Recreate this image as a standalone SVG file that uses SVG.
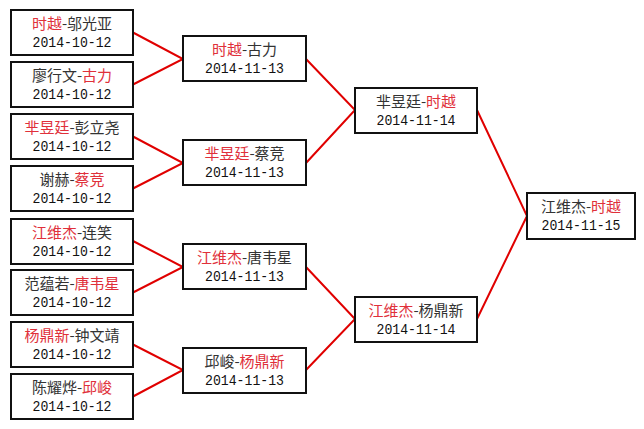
<svg xmlns="http://www.w3.org/2000/svg" width="644" height="429" viewBox="0 0 644 429">
<style>
.b{fill:#fff;stroke:#111;stroke-width:2}
.n{font-family:"Noto Sans CJK SC","Liberation Sans",sans-serif;font-size:15px;fill:#333;text-anchor:middle}
.r{fill:#e0303a}
.d{font-family:"Liberation Mono",monospace;font-size:14px;fill:#111;text-anchor:middle}
.c{stroke:#e00000;stroke-width:2;fill:none}
</style>
<rect width="644" height="429" fill="#fff"/>
<g id="connectors">
<polyline class="c" points="133,32.5 183,59 133,84.5"/>
<polyline class="c" points="133,136.5 183,163 133,188.5"/>
<polyline class="c" points="133,241 183,267 133,292.5"/>
<polyline class="c" points="133,344.5 183,370 133,396.5"/>
<polyline class="c" points="306,59 355,110 306,163"/>
<polyline class="c" points="306,267 355,319 306,370"/>
<polyline class="c" points="477,110 527,216 477,319"/>
</g>
<g id="n1"><rect class="b" x="11" y="10" width="122" height="45"/><text class="n" x="72" y="29"><tspan class="r">时越</tspan>-邬光亚</text><text class="d" x="72" y="47" textLength="79" lengthAdjust="spacingAndGlyphs">2014-10-12</text></g>
<g id="n2"><rect class="b" x="11" y="62" width="122" height="45"/><text class="n" x="72" y="81">廖行文-<tspan class="r">古力</tspan></text><text class="d" x="72" y="99" textLength="79" lengthAdjust="spacingAndGlyphs">2014-10-12</text></g>
<g id="n3"><rect class="b" x="11" y="114" width="122" height="45"/><text class="n" x="72" y="133"><tspan class="r">芈昱廷</tspan>-彭立尧</text><text class="d" x="72" y="151" textLength="79" lengthAdjust="spacingAndGlyphs">2014-10-12</text></g>
<g id="n4"><rect class="b" x="11" y="166" width="122" height="45"/><text class="n" x="72" y="185">谢赫-<tspan class="r">蔡竞</tspan></text><text class="d" x="72" y="203" textLength="79" lengthAdjust="spacingAndGlyphs">2014-10-12</text></g>
<g id="n5"><rect class="b" x="11" y="219" width="122" height="45"/><text class="n" x="72" y="238"><tspan class="r">江维杰</tspan>-连笑</text><text class="d" x="72" y="256" textLength="79" lengthAdjust="spacingAndGlyphs">2014-10-12</text></g>
<g id="n6"><rect class="b" x="11" y="270" width="122" height="45"/><text class="n" x="72" y="289">范蕴若-<tspan class="r">唐韦星</tspan></text><text class="d" x="72" y="307" textLength="79" lengthAdjust="spacingAndGlyphs">2014-10-12</text></g>
<g id="n7"><rect class="b" x="11" y="322" width="122" height="45"/><text class="n" x="72" y="341"><tspan class="r">杨鼎新</tspan>-钟文靖</text><text class="d" x="72" y="359" textLength="79" lengthAdjust="spacingAndGlyphs">2014-10-12</text></g>
<g id="n8"><rect class="b" x="11" y="374" width="122" height="45"/><text class="n" x="72" y="393">陈耀烨-<tspan class="r">邱峻</tspan></text><text class="d" x="72" y="411" textLength="79" lengthAdjust="spacingAndGlyphs">2014-10-12</text></g>
<g id="m1"><rect class="b" x="183" y="36" width="123" height="45"/><text class="n" x="244.5" y="55"><tspan class="r">时越</tspan>-古力</text><text class="d" x="244.5" y="73" textLength="79" lengthAdjust="spacingAndGlyphs">2014-11-13</text></g>
<g id="m2"><rect class="b" x="183" y="140" width="123" height="45"/><text class="n" x="244.5" y="159"><tspan class="r">芈昱廷</tspan>-蔡竞</text><text class="d" x="244.5" y="177" textLength="79" lengthAdjust="spacingAndGlyphs">2014-11-13</text></g>
<g id="m3"><rect class="b" x="183" y="244" width="123" height="45"/><text class="n" x="244.5" y="263"><tspan class="r">江维杰</tspan>-唐韦星</text><text class="d" x="244.5" y="281" textLength="79" lengthAdjust="spacingAndGlyphs">2014-11-13</text></g>
<g id="m4"><rect class="b" x="183" y="348" width="123" height="45"/><text class="n" x="244.5" y="367">邱峻-<tspan class="r">杨鼎新</tspan></text><text class="d" x="244.5" y="385" textLength="79" lengthAdjust="spacingAndGlyphs">2014-11-13</text></g>
<g id="s1"><rect class="b" x="355" y="88" width="122" height="45"/><text class="n" x="416" y="107">芈昱廷-<tspan class="r">时越</tspan></text><text class="d" x="416" y="125" textLength="79" lengthAdjust="spacingAndGlyphs">2014-11-14</text></g>
<g id="s2"><rect class="b" x="355" y="297" width="122" height="45"/><text class="n" x="416" y="316"><tspan class="r">江维杰</tspan>-杨鼎新</text><text class="d" x="416" y="334" textLength="79" lengthAdjust="spacingAndGlyphs">2014-11-14</text></g>
<g id="f"><rect class="b" x="527" y="193" width="108" height="46"/><text class="n" x="581" y="212">江维杰-<tspan class="r">时越</tspan></text><text class="d" x="581" y="230" textLength="79" lengthAdjust="spacingAndGlyphs">2014-11-15</text></g>
</svg>
